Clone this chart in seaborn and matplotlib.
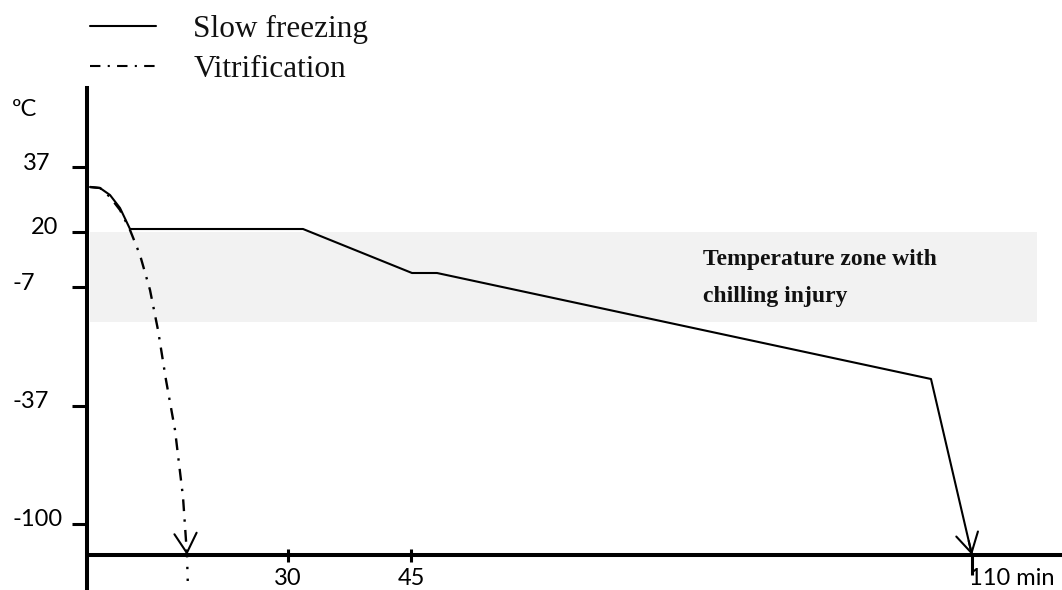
import matplotlib
matplotlib.use("Agg")
import matplotlib.pyplot as plt
import seaborn as sns
import numpy as np

# ---------------- data (schematic units, origin at the axes corner) ----------------
ytick_pos = [388, 323, 268, 149, 31]
ytick_labels = ["37", "20", "-7", "-37", "-100"]
xtick_pos = [201, 324, 885]
xtick_labels = ["30", "45", "110 min"]

slow_x = [3, 13, 23, 33, 43, 216, 325, 350, 844, 885]
slow_y = [368, 367, 360, 347, 326, 326, 282, 282, 176, 0]

vitri_x = [3, 13, 23, 33, 43, 53, 63, 71, 79, 88, 96, 100]
vitri_y = [368, 367, 358, 345, 325, 300, 265, 225, 175, 125, 58, 0]
vitri_tail_x = [100, 101]
vitri_tail_y = [0, -35]

band_x = [3, 950]
band_lo, band_hi = 233, 323
band_label = "Temperature zone with\nchilling injury"
series_labels = ["Slow freezing", "Vitrification"]
unit_label = "ºC"

# ---------------- figure ----------------
sns.set_theme(style="white")
plt.rcParams["font.family"] = ["Lato", "DejaVu Sans"]

W, H = 1062, 590
fig = plt.figure(figsize=(W / 100, H / 100), dpi=100)
left_px, top_px = 87, 88
ax = fig.add_axes([left_px / W, 0, 1 - left_px / W, 1 - top_px / H])
ax.set_xlim(0, W - left_px)
ax.set_ylim(-35, 555 - top_px)
ax.set_facecolor("none")

for s in ["top", "right", "bottom"]:
    ax.spines[s].set_visible(False)
ax.spines["left"].set_linewidth(2.9)
ax.spines["left"].set_color("black")

# band
ax.fill_between(band_x, band_lo, band_hi, color="#f2f2f2", lw=0, zorder=0)

# x axis line
ax.axhline(0, color="black", lw=2.9, zorder=3)

# lines
dashdot = (0, (5, 3.5, 1, 3.5))
sns.lineplot(x=slow_x, y=slow_y, sort=False, estimator=None, color="black",
             lw=1.5, ax=ax, label=series_labels[0], zorder=4)
sns.lineplot(x=vitri_x, y=vitri_y, sort=False, estimator=None, color="black",
             lw=1.7, ax=ax, label=series_labels[1], zorder=4, linestyle=dashdot)
ax.plot(vitri_tail_x, vitri_tail_y, color="black", lw=1.7, linestyle=(0, (1, 4)))

# arrow heads (head only, tiny shaft along the last segment)
for xs, ys in [(slow_x, slow_y), (vitri_x, vitri_y)]:
    x1, y1, x0, y0 = xs[-1], ys[-1], xs[-2], ys[-2]
    ax.annotate("", xy=(x1, y1), xytext=(x1 - 0.08 * (x1 - x0), y1 - 0.08 * (y1 - y0)),
                arrowprops=dict(arrowstyle="->,head_length=0.7,head_width=0.4",
                                color="black", lw=1.5, shrinkA=0, shrinkB=0,
                                mutation_scale=20), zorder=5)

# y ticks
ax.set_yticks(ytick_pos)
ax.set_yticklabels([])
ax.tick_params(axis="y", direction="out", length=10.5, width=2.2, color="black", left=True)
ax.set_xticks([])
label_x_px = [23, 31, 12, 12, 12]
for pos, lab, xp in zip(ytick_pos, ytick_labels, label_x_px):
    ax.text((xp - left_px) / (W - left_px), pos + 4, lab, transform=ax.get_yaxis_transform(),
            ha="left", va="center", fontsize=17, color="black", clip_on=False)
ax.text((12 - left_px) / (W - left_px), 445, unit_label, transform=ax.get_yaxis_transform(),
        ha="left", va="center", fontsize=17, color="black", clip_on=False)

# x ticks (drawn on the x-axis line at y=0)
tick_lo = [-7, -7, -20]
tick_hi = [6, 6, 0]
ax.vlines(xtick_pos, tick_lo, tick_hi, color="black", lw=2.2, zorder=3)
ha_list = ["center", "center", "left"]
off = [0, 0, -3]
for pos, lab, ha, o in zip(xtick_pos, xtick_labels, ha_list, off):
    ax.text(pos + o, -13, lab, ha=ha, va="top", fontsize=17, color="black", clip_on=False)

# band label
ax.text(616, 277, band_label, ha="left", va="center", fontsize=17, fontweight="bold",
        family=["Liberation Serif", "DejaVu Serif"], linespacing=2.05, color="#111111")

# legend
leg = ax.legend(loc="upper left", bbox_to_anchor=(90 / W, 1 - 15 / H),
                bbox_transform=fig.transFigure, frameon=False, handlelength=2.1,
                handletextpad=1.2, labelspacing=0.35, borderpad=0, borderaxespad=0,
                prop={"family": ["Liberation Serif", "DejaVu Serif"], "size": 22.5})
for h in leg.get_lines():
    h.set_linewidth(1.5)
for t in leg.get_texts():
    t.set_color("#111111")

fig.savefig("out.png", dpi=100)
